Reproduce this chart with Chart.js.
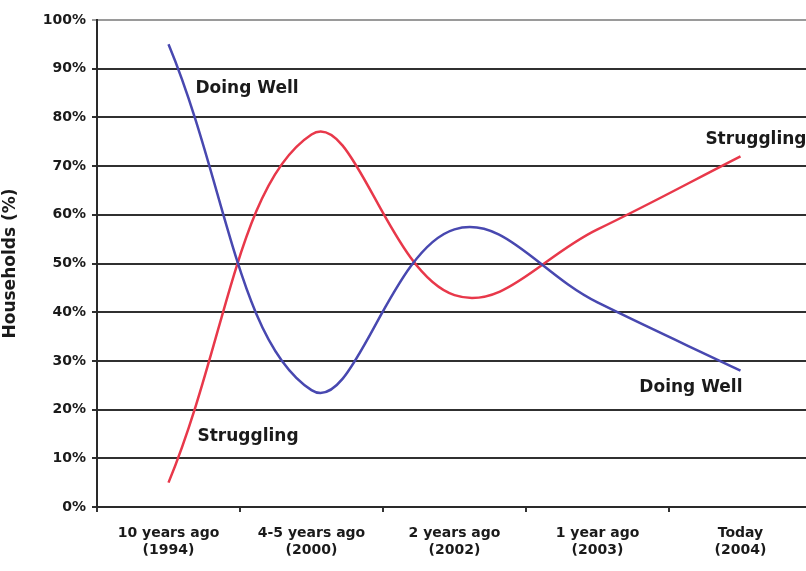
<!DOCTYPE html>
<html lang="en">
<head>
    <meta charset="UTF-8">
    <title>Households - Doing Well vs Struggling</title>
    <script src="https://cdn.jsdelivr.net/npm/chart.js"></script>
    <style>
        html, body { margin: 0; padding: 0; background: #fff; overflow: hidden; }
        #chart { display: block; }
    </style>
</head>
<body>
    <canvas id="chart" width="815" height="571"></canvas>

    <script>
        // categorias e valores
        const periodos = [
            ["10 years ago", "(1994)"],
            ["4-5 years ago", "(2000)"],
            ["2 years ago", "(2002)"],
            ["1 year ago", "(2003)"],
            ["Today", "(2004)"]
        ];
        const doingWell = [95, 24, 57, 42, 28];
        const struggling = [5, 76.5, 43.5, 57, 72];
        const yTicks = [0, 10, 20, 30, 40, 50, 60, 70, 80, 90, 100];

        const fonte = "'DejaVu Sans', sans-serif";

        // rótulos das séries escritos dentro do gráfico
        const rotulos = [
            { text: "Doing Well", i: 0, v: 86, dx: 27, align: "left" },
            { text: "Struggling", i: 0, v: 14.5, dx: 29, align: "left" },
            { text: "Doing Well", i: 4, v: 24.5, dx: 2, align: "right" },
            { text: "Struggling", i: 4, v: 75.5, dx: 66, align: "right" }
        ];

        const rotulosPlugin = {
            id: "rotulos",
            afterDatasetsDraw(chart) {
                const { ctx, scales } = chart;
                ctx.save();
                ctx.font = "bold 17px " + fonte;
                ctx.fillStyle = "#1a1a1a";
                ctx.textBaseline = "middle";
                rotulos.forEach(r => {
                    ctx.textAlign = r.align;
                    ctx.fillText(r.text, scales.x.getPixelForValue(r.i) + r.dx, scales.y.getPixelForValue(r.v));
                });
                ctx.restore();
            }
        };

        new Chart(document.getElementById("chart"), {
            type: "line",
            data: {
                labels: periodos,
                datasets: [{
                    label: "Doing Well",
                    data: doingWell,
                    borderColor: "#4848b0",
                    borderWidth: 2.5,
                    pointRadius: 0,
                    tension: 0.4,
                    fill: false
                }, {
                    label: "Struggling",
                    data: struggling,
                    borderColor: "#e8384a",
                    borderWidth: 2.5,
                    pointRadius: 0,
                    tension: 0.4,
                    fill: false
                }]
            },
            options: {
                responsive: false,
                animation: false,
                layout: { padding: { top: 20, right: 3, left: 0, bottom: 0 } },
                plugins: {
                    legend: { display: false },
                    tooltip: { enabled: false }
                },
                scales: {
                    x: {
                        offset: true,
                        grid: {
                            offset: true,
                            drawOnChartArea: false,
                            drawTicks: true,
                            tickLength: 5,
                            color: "#333",
                            lineWidth: 2
                        },
                        border: { color: "#2a2a2a", width: 2 },
                        ticks: {
                            color: "#1a1a1a",
                            font: { family: fonte, size: 14, weight: "bold" },
                            padding: 13,
                            maxRotation: 0,
                            autoSkip: false
                        },
                        afterFit(s) { s.height = 64; }
                    },
                    y: {
                        min: 0,
                        max: 100,
                        afterBuildTicks(s) { s.ticks = yTicks.map(v => ({ value: v })); },
                        grid: {
                            color: c => c.tick && c.tick.value === 100 ? "#9a9a9a" : "#303030",
                            lineWidth: 2,
                            tickLength: 5
                        },
                        border: { color: "#2a2a2a", width: 2 },
                        ticks: {
                            color: "#1a1a1a",
                            font: { family: fonte, size: 14, weight: "bold" },
                            padding: 6,
                            callback: v => v + "%"
                        },
                        title: {
                            display: true,
                            text: "Households (%)",
                            color: "#1a1a1a",
                            font: { family: fonte, size: 17, weight: "bold" },
                            padding: { top: 0, bottom: 2 }
                        },
                        afterFit(s) { s.width = 97; }
                    }
                }
            },
            plugins: [rotulosPlugin]
        });
    </script>
</body>
</html>
